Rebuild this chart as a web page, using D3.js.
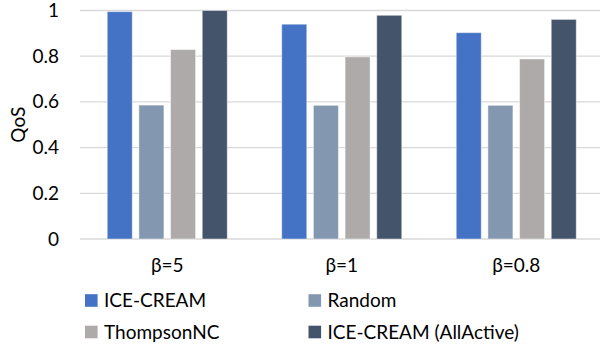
<!DOCTYPE html>
<html><head><meta charset="utf-8">
<script src="https://cdn.jsdelivr.net/npm/d3@7"></script>
<style>html,body{margin:0;padding:0;background:#fff;}svg{display:block;font-family:Lato,"Open Sans",sans-serif;}</style>
</head><body>
<svg id="chart" width="600" height="345"></svg>
<script>
const categories = ["β=5", "β=1", "β=0.8"];
const seriesNames = ["ICE-CREAM", "Random", "ThompsonNC", "ICE-CREAM (AllActive)"];
const iceCream = [0.995, 0.94, 0.903];
const random = [0.586, 0.585, 0.585];
const thompsonNC = [0.829, 0.797, 0.788];
const allActive = [1.0, 0.979, 0.961];
const yTicks = [0, 0.2, 0.4, 0.6, 0.8, 1];
const colors = ["#4472C4", "#8497B0", "#AEAAAA", "#44546A"];

const seriesValues = [iceCream, random, thompsonNC, allActive];
const svg = d3.select("#chart");

const x0 = d3.scaleBand().domain(categories).range([80, 603.5]).paddingInner(0).paddingOuter(0);
const x1 = d3.scaleBand().domain(seriesNames).range([0, x0.bandwidth()]).paddingInner(0.21).paddingOuter(0.86);
const y = d3.scaleLinear().domain([0, 1]).range([239, 10.5]);

// gridlines
svg.append("g").selectAll("line").data(yTicks).join("line")
  .attr("x1", 80).attr("x2", 600)
  .attr("y1", d => y(d)).attr("y2", d => y(d))
  .attr("stroke", "#D9D9D9").attr("stroke-width", 1.3);

// y axis labels
const yAxis = d3.axisLeft(y).tickValues(yTicks).tickFormat(d => d3.format("~g")(d)).tickSize(0).tickPadding(0);
const yg = svg.append("g").attr("transform", "translate(59,0)").call(yAxis);
yg.select(".domain").remove();
yg.selectAll("text").attr("font-size", 19).attr("fill", "#000").attr("font-family", "Lato");

// bars
const groups = svg.append("g").selectAll("g").data(categories).join("g")
  .attr("transform", c => `translate(${x0(c)},0)`);
groups.selectAll("rect").data((c, i) => seriesNames.map((s, j) => ({s, j, v: seriesValues[j][i]}))).join("rect")
  .attr("x", d => x1(d.s)).attr("width", x1.bandwidth())
  .attr("y", d => y(d.v)).attr("height", d => y(0) - y(d.v))
  .attr("fill", d => colors[d.j])
  .attr("stroke", "#ffffff").attr("stroke-opacity", 0.45).attr("stroke-width", 1);

// x axis labels
const xAxis = d3.axisBottom(x0).tickSize(0).tickPadding(0);
const xg = svg.append("g").attr("transform", "translate(0,258)").call(xAxis);
xg.select(".domain").remove();
xg.selectAll("text").attr("font-size", 19).attr("fill", "#000").attr("font-family", "Lato").attr("dy", "0.71em");

// y title
svg.append("text").attr("transform", `translate(25,${(y(0)+y(1))/2}) rotate(-90)`)
  .attr("text-anchor", "middle").attr("font-size", 19).text("QoS");

// legend
const legendPos = [[85, 300.5], [308.5, 300.5], [85, 332], [308.5, 332]];
const lg = svg.append("g").selectAll("g").data(seriesNames).join("g")
  .attr("transform", (d, i) => `translate(${legendPos[i][0]},${legendPos[i][1]})`);
lg.append("rect").attr("x", 0).attr("y", -6.3).attr("width", 12.6).attr("height", 12.6)
  .attr("fill", (d, i) => colors[i]);
lg.append("text").attr("x", 19).attr("dy", "0.36em").attr("font-size", 19).text(d => d);
</script>
</body></html>
